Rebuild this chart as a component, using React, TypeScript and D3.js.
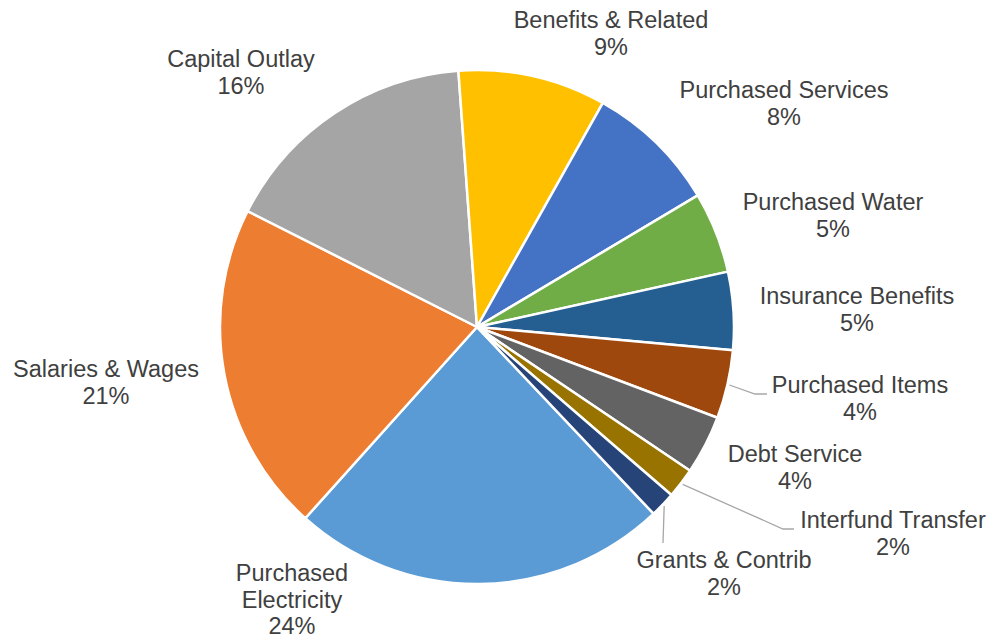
import React from "react";
import * as d3 from "d3";

const categories = [
  "Purchased Electricity",
  "Salaries & Wages",
  "Capital Outlay",
  "Benefits & Related",
  "Purchased Services",
  "Purchased Water",
  "Insurance Benefits",
  "Purchased Items",
  "Debt Service",
  "Interfund Transfer",
  "Grants & Contrib",
];
const values = [23.7, 20.8, 16.4, 9.3, 8.3, 5.1, 4.9, 4.3, 3.7, 1.9, 1.6];
const colors = [
  "#5B9BD5", "#ED7D31", "#A5A5A5", "#FFC000", "#4472C4", "#70AD47",
  "#255E91", "#9E480E", "#636363", "#997300", "#264478",
];

// label layout: label block center x, first baseline y, line breaks, optional leader elbow
const labelLines: string[][] = [
  ["Purchased", "Electricity"],
  ["Salaries & Wages"],
  ["Capital Outlay"],
  ["Benefits & Related"],
  ["Purchased Services"],
  ["Purchased Water"],
  ["Insurance Benefits"],
  ["Purchased Items"],
  ["Debt Service"],
  ["Interfund Transfer"],
  ["Grants & Contrib"],
];
const labelX = [292, 106, 241, 611, 784, 833, 857, 860, 795, 893, 724];
const labelY = [581, 377, 67, 28, 98, 210, 304, 393, 462, 528, 568];
const lineHeights = [26.5, 27, 27, 27, 27, 27, 27, 27, 27, 27, 27];
const leaders: ([number, number, number, number] | null)[] = [
  null, null, null, null, null, null, null,
  [755, 394, 767, 394],
  null,
  [783, 529, 794, 529],
  [663, 543, 663, 543],
];

const W = 992;
const H = 638;
const CX = 477;
const CY = 327;
const R = 257;
const START = (136.6 * Math.PI) / 180;

export default function App() {
  const pie = d3
    .pie<number>()
    .sort(null)
    .value((d) => d)
    .startAngle(START)
    .endAngle(START + 2 * Math.PI);
  const arcs = pie(values);
  const arc = d3.arc<d3.PieArcDatum<number>>().innerRadius(0).outerRadius(R);
  const total = d3.sum(values);

  return (
    <svg
      width={W}
      height={H}
      style={{ position: "absolute", left: 0, top: 0, background: "#fff" }}
      fontFamily="'Liberation Sans', Arial, sans-serif"
    >
      <rect x={0} y={0} width={W} height={H} fill="#fff" />
      <g transform={`translate(${CX},${CY})`}>
        {arcs.map((a, i) => (
          <path
            key={i}
            d={arc(a) || ""}
            fill={colors[i]}
            stroke="#fff"
            strokeWidth={2.5}
            strokeLinejoin="round"
          />
        ))}
      </g>
      {arcs.map((a, i) => {
        const l = leaders[i];
        if (!l) return null;
        const mid = (a.startAngle + a.endAngle) / 2;
        const sx = CX + (R + 2) * Math.sin(mid);
        const sy = CY - (R + 2) * Math.cos(mid);
        return (
          <polyline
            key={"l" + i}
            points={`${sx},${sy} ${l[0]},${l[1]} ${l[2]},${l[3]}`}
            fill="none"
            stroke="#A6A6A6"
            strokeWidth={1.3}
          />
        );
      })}
      {categories.map((c, i) => {
        const lines = [...labelLines[i], `${Math.round((values[i] / total) * 100)}%`];
        return (
          <text
            key={"t" + i}
            x={labelX[i]}
            y={labelY[i]}
            textAnchor="middle"
            fontSize={23.5}
            fill="#404040"
          >
            {lines.map((ln, j) => (
              <tspan key={j} x={labelX[i]} dy={j === 0 ? 0 : lineHeights[i]}>
                {ln}
              </tspan>
            ))}
          </text>
        );
      })}
    </svg>
  );
}
